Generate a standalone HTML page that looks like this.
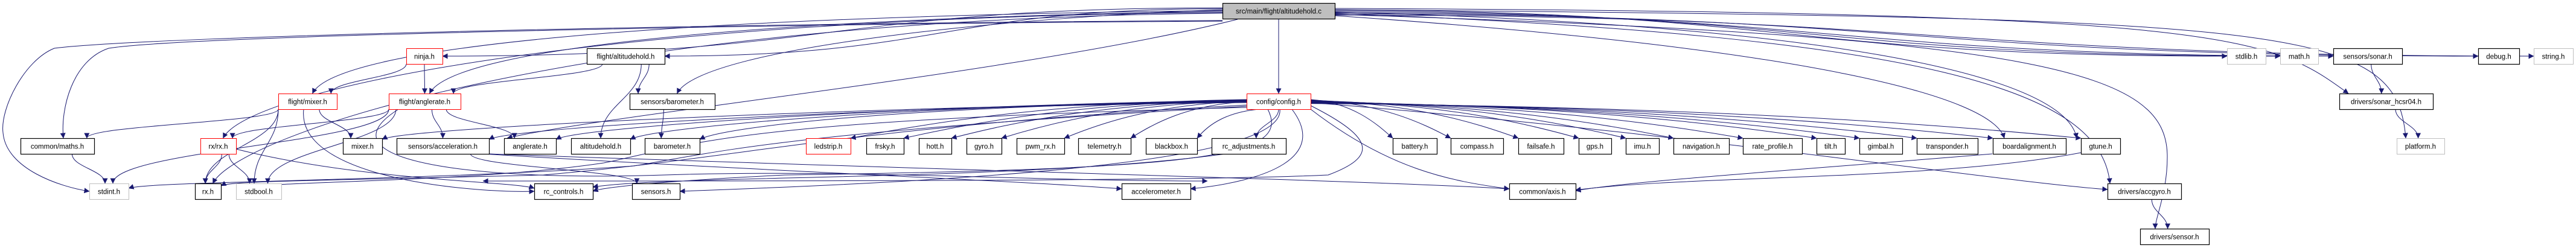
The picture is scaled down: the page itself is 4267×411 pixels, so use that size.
<!DOCTYPE html>
<html><head><meta charset="utf-8"><style>
html,body{margin:0;padding:0;background:#fff;}
svg{display:block;}
text{font-family:"Liberation Sans",sans-serif;font-size:11.5px;fill:#000;}
</style></head><body>
<svg id="g" width="4267" height="411" viewBox="0 0 4267 411" xmlns="http://www.w3.org/2000/svg">
<defs>
<marker id="b" viewBox="0 0 10 10" refX="9.5" refY="5" markerWidth="9" markerHeight="9" markerUnits="userSpaceOnUse" orient="auto"><path d="M0,0 L10,5 L0,10 z" fill="#191970"/></marker></defs>
<g id="edges" fill="none" stroke="#191970" stroke-width="1"></g>
<g id="nodes"></g>
</svg>
<script>
(function(){
var R=[5,80,155,229,304,379],H=26;
var N={
root:[2025,2211,0,"src/main/flight/altitudehold.c","root"],
ninja:[673,733,1,"ninja.h","red"],
falt:[972,1101,1,"flight/altitudehold.h","b"],
stdlib:[3689,3753,1,"stdlib.h","g"],
math:[3777,3840,1,"math.h","g"],
sonar:[3865,3979,1,"sensors/sonar.h","b"],
debug:[4105,4173,1,"debug.h","b"],
string:[4197,4262,1,"string.h","g"],
fmixer:[461,558,2,"flight/mixer.h","red"],
fangle:[644,763,2,"flight/anglerate.h","red"],
sbaro:[1043,1184,2,"sensors/barometer.h","b"],
config:[2065,2171,2,"config/config.h","red"],
hcsr:[3875,4030,2,"drivers/sonar_hcsr04.h","b"],
maths:[34,156,3,"common/maths.h","b"],
rxrx:[332,391,3,"rx/rx.h","red"],
mixer:[568,633,3,"mixer.h","b"],
accel:[657,810,3,"sensors/acceleration.h","b"],
angle:[835,921,3,"anglerate.h","b"],
alt:[946,1044,3,"altitudehold.h","b"],
baro:[1068,1159,3,"barometer.h","b"],
led:[1335,1409,3,"ledstrip.h","red"],
frsky:[1435,1497,3,"frsky.h","b"],
hott:[1522,1576,3,"hott.h","b"],
gyro:[1601,1659,3,"gyro.h","b"],
pwm:[1684,1763,3,"pwm_rx.h","b"],
tele:[1786,1873,3,"telemetry.h","b"],
bbox:[1898,1983,3,"blackbox.h","b"],
rcadj:[2007,2130,3,"rc_adjustments.h","b"],
batt:[2307,2380,3,"battery.h","b"],
comp:[2403,2490,3,"compass.h","b"],
fail:[2515,2590,3,"failsafe.h","b"],
gps:[2615,2669,3,"gps.h","b"],
imu:[2693,2748,3,"imu.h","b"],
nav:[2772,2864,3,"navigation.h","b"],
rate:[2887,2985,3,"rate_profile.h","b"],
tilt:[3009,3056,3,"tilt.h","b"],
gimbal:[3080,3151,3,"gimbal.h","b"],
trans:[3175,3276,3,"transponder.h","b"],
board:[3301,3422,3,"boardalignment.h","b"],
gtune:[3447,3512,3,"gtune.h","b"],
platform:[3970,4049,3,"platform.h","g"],
stdint:[148,213,4,"stdint.h","g"],
rxh:[323,366,4,"rx.h","b"],
stdbool:[391,466,4,"stdbool.h","g"],
rcc:[885,982,4,"rc_controls.h","b"],
sensors:[1047,1126,4,"sensors.h","b"],
accm:[1858,1972,4,"accelerometer.h","b"],
axis:[2500,2610,4,"common/axis.h","b"],
accgyro:[3491,3613,4,"drivers/accgyro.h","b"],
sensor:[3545,3659,5,"drivers/sensor.h","b"]
};
var E=document.getElementById("edges"),NS="http://www.w3.org/2000/svg";
function cx(n){return (N[n][0]+N[n][1])/2}
function ntop(n){return R[N[n][2]]}
function nbot(n){return R[N[n][2]]+H}
function P(d){var p=document.createElementNS(NS,"path");p.setAttribute("d",d);p.setAttribute("marker-end","url(#b)");E.appendChild(p);}
function dn(s,t,sf,tf){
 var a=N[s],b=N[t];sf=(sf==null)?0.5:sf;tf=(tf==null)?0.5:tf;
 var sx=a[0]+(a[1]-a[0])*sf,sy=nbot(s),tx=b[0]+(b[1]-b[0])*tf,ty=ntop(t);
 var dy=ty-sy;
 P("M"+sx+","+sy+" C"+sx+","+(sy+dy*0.45)+" "+tx+","+(ty-dy*0.45)+" "+tx+","+ty);
}
function sd(s,t,side,sy0){
 var a=N[s],b=N[t];
 var sx=(cx(t)<cx(s))?a[0]:a[1],sy=sy0||(R[a[2]]+H*0.6);
 var tx=(side=="l")?b[0]:b[1],ty=R[b[2]]+H/2;
 var mx=(sx+tx)/2;
 P("M"+sx+","+sy+" C"+mx+","+sy+" "+mx+","+ty+" "+tx+","+ty);
}
dn("root","config");
["ninja","falt","sbaro","fmixer","fangle","rxrx","rxh"].forEach(function(t,i){
 var a=N.root;var sx=a[0],sy=R[0]+8+i*1.5,tx=cx(t)+8,ty=ntop(t);
 if(t=="ninja"||t=="falt"){sd("root",t,"r",sy);return;}
 P("M"+sx+","+sy+" C"+(tx+600)+","+(sy+10)+" "+(tx+40)+","+(ty-80)+" "+tx+","+ty);
});
P("M2025,35 C1200,40 300,60 180,80 C120,100 100,180 105,229");
P("M2025,34 C1200,38 250,60 90,80 C40,100 0,180 5,220 C10,280 100,310 148,317");
P("M2050,32 C1700,120 1000,190 840,229");
["stdlib","math","sonar","debug","string"].forEach(function(t,i){sd("root",t,"l",R[0]+12+i*2);});
P("M2211,14 C3700,20 3760,60 3890,155");
P("M2211,16 C3800,30 3970,40 3985,229");
P("M2211,20 C3000,40 3420,120 3440,229");
P("M2211,22 C3200,60 3480,150 3495,304");
P("M2211,24 C3400,60 3590,120 3590,260 C3590,320 3570,360 3570,379");
P("M2211,26 C3000,80 3300,160 3320,229");
dn("ninja","fmixer",0,0.9);dn("ninja","fangle");
dn("falt","fangle",0.2,0.9);dn("falt","alt",0.7);dn("falt","sbaro",0.8,0.1);
dn("sbaro","baro",0.4,0.3);
dn("fmixer","maths",0,0.9);dn("fmixer","mixer",0.7,0.2);dn("fmixer","stdbool",0,0.4);dn("fmixer","rxh",0,0.4);
P("M503,181 C490,300 800,320 885,317");
dn("fangle","accel",0.6);dn("fangle","angle",0.8,0.2);dn("fangle","rxrx",0,0.9);dn("fangle","stdint",0,0.6);dn("fangle","stdbool",0.1,0.7);
P("M660,181 C520,270 800,300 1100,290 C1400,280 1700,300 2000,300");
dn("maths","stdint",0.7,0.4);dn("rxrx","rxh",0.6,0.4);dn("rxrx","stdbool",0.8,0.3);
P("M391,247 C600,300 850,300 885,312");
dn("accel","sensors",0.8,0.1);
P("M800,255 C1200,280 1700,300 1858,313");
P("M810,255 C1500,280 2300,300 2500,313");
dn("sonar","hcsr",0.55,0.45);dn("hcsr","platform",0.6,0.45);dn("accgyro","sensor",0.6,0.4);
["led","frsky","hott","gyro","pwm","tele","bbox","rcadj","batt","comp","fail","gps","imu","nav","rate","tilt","gimbal","trans","board","gtune"].forEach(function(t,i){
 var a=N.config,b=N[t];
 var sx,sy,tx,ty=ntop(t);
 if(t=="rcadj"){dn("config",t,0.5,0.6);return;}
 if(cx(t)<cx("config")){sx=a[0]+(t=="bbox"?20:0);sy=t=="bbox"?181:(R[2]+10+i*0.7);tx=b[1];}
 else {sx=a[1];sy=R[2]+10+(i-8)*0.6;tx=b[0];}
 P("M"+sx+","+sy+" C"+((sx+tx)/2)+","+(sy+5)+" "+(tx-((tx-sx)*0.2))+","+(ty-25)+" "+tx+","+ty);
});
["angle","alt","baro","mixer","accel"].forEach(function(t,i){
 var b=N[t];P("M2065,"+(166+i)+" C1500,175 "+(b[1]+40)+",210 "+b[1]+","+(ntop(t)+2));
});
P("M2065,178 C1200,200 1150,240 1000,270 C800,300 500,300 400,310");
P("M2065,176 C1300,220 1200,250 1050,275 C700,300 250,300 213,312");
P("M2065,174 C1400,210 1250,260 900,290 C500,300 380,300 366,308");
P("M2100,181 C2140,260 2000,280 1300,290 C1100,300 1000,310 982,317");
P("M2120,181 C2130,270 1600,300 1126,317");
P("M2140,181 C2200,260 2100,300 1972,313");
P("M2171,175 C2280,230 2280,260 2200,290 C2000,300 1300,300 800,300");
P("M2171,181 C2300,280 2400,300 2500,313");
P("M2171,170 C2800,220 3300,300 3491,314");
P("M2030,255 C1700,300 1100,290 982,310");
P("M3447,253 C3200,300 2800,290 2610,315");
P("M3300,255 C3000,280 2700,300 2610,316");
var G=document.getElementById("nodes");
for(var k in N){var n=N[k],y=R[n[2]];
 var r=document.createElementNS(NS,"rect");
 r.setAttribute("x",n[0]+0.5);r.setAttribute("y",y+0.5);r.setAttribute("width",n[1]-n[0]);r.setAttribute("height",H);
 var st=n[4];
 r.setAttribute("fill",st=="root"?"#bfbfbf":"#fff");
 r.setAttribute("stroke",st=="red"?"#ff0000":st=="g"?"#bfbfbf":"#000");
 r.setAttribute("stroke-width",(st=="b"||st=="root")?1.2:1);
 G.appendChild(r);
 var t=document.createElementNS(NS,"text");t.setAttribute("x",(n[0]+n[1])/2);t.setAttribute("y",y+17.5);t.setAttribute("text-anchor","middle");t.textContent=n[3];G.appendChild(t);}
})();
</script>
</body></html>
